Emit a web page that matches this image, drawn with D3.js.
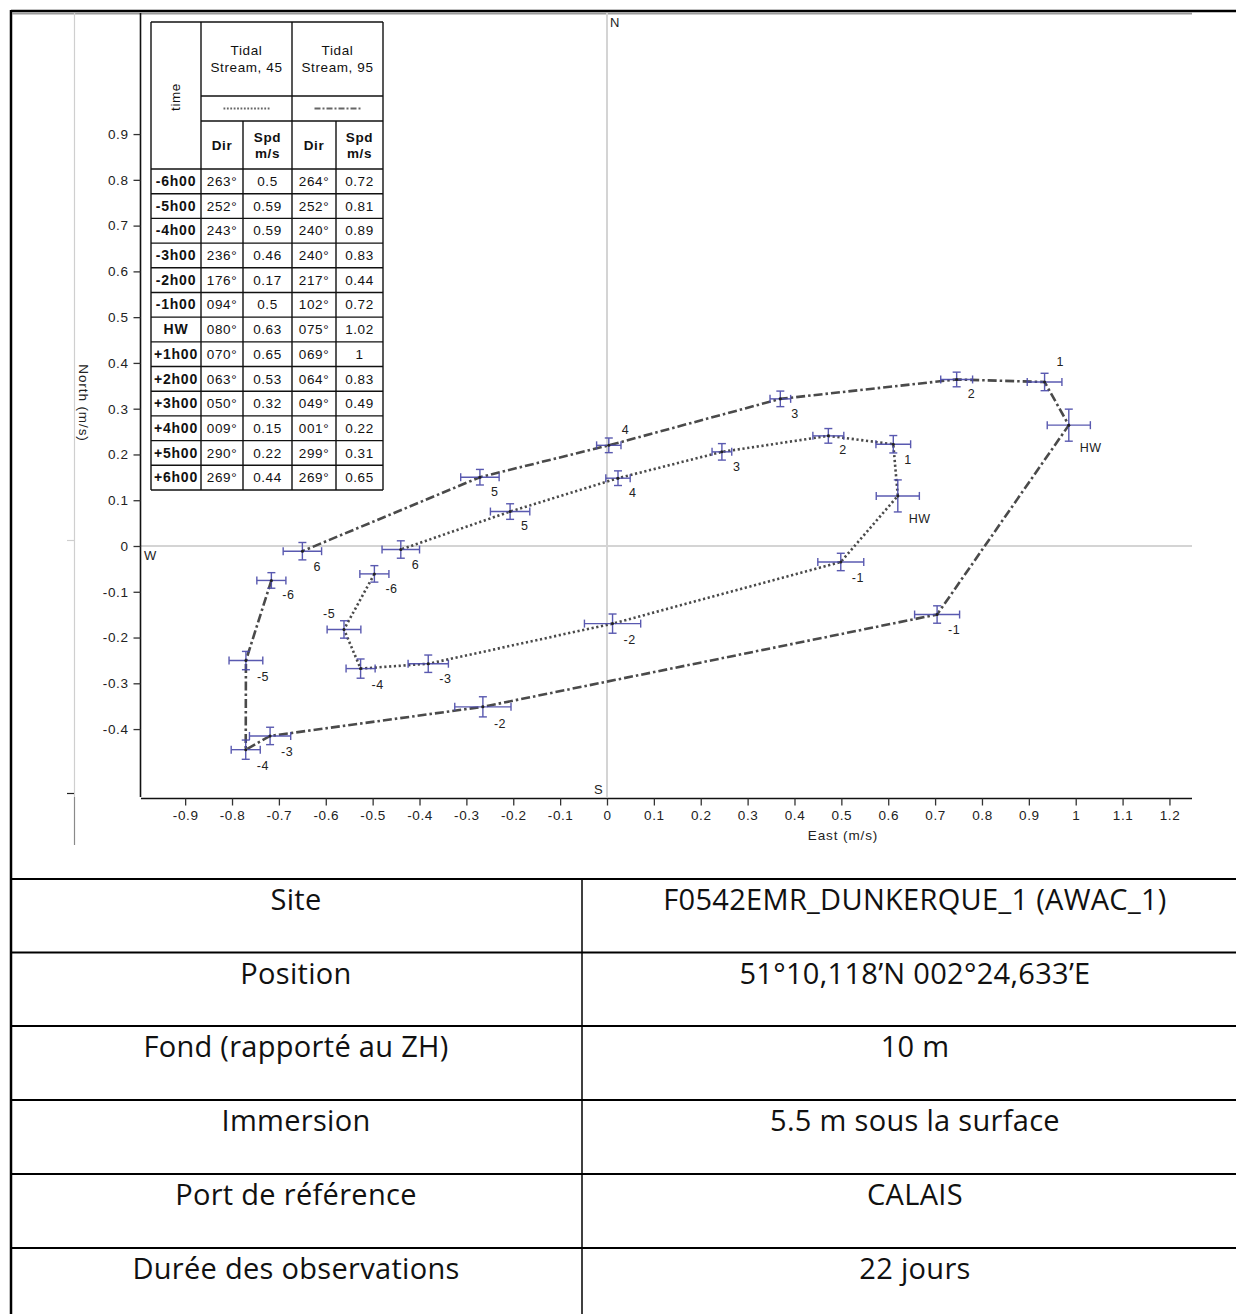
<!DOCTYPE html>
<html><head><meta charset="utf-8">
<script src="https://cdn.jsdelivr.net/npm/d3@7"></script>
<style>
body{margin:0;background:#fff;}
svg{display:block;}
</style></head><body>
<svg id="c" width="1236" height="1314"></svg>
<script>
// Tidal stream table (direction in degrees, speed in m/s) for two depth bins
const times = ["-6h00","-5h00","-4h00","-3h00","-2h00","-1h00","HW","+1h00","+2h00","+3h00","+4h00","+5h00","+6h00"];
const pointLabels = ["-6","-5","-4","-3","-2","-1","HW","1","2","3","4","5","6"];
const dir45 = [263,252,243,236,176,94,80,70,63,50,9,290,269];
const spd45 = [0.5,0.59,0.59,0.46,0.17,0.5,0.63,0.65,0.53,0.32,0.15,0.22,0.44];
const dir95 = [264,252,240,240,217,102,75,69,64,49,1,299,269];
const spd95 = [0.72,0.81,0.89,0.83,0.44,0.72,1.02,1,0.83,0.49,0.22,0.31,0.65];
// spread of the east / north components (m/s)
const eastErr45  = [0.031,0.036,0.031,0.043,0.060,0.049,0.046,0.037,0.033,0.021,0.026,0.042,0.040];
const northErr45 = [0.018,0.019,0.021,0.019,0.021,0.019,0.035,0.019,0.016,0.018,0.016,0.017,0.019];
const eastErr95  = [0.031,0.036,0.031,0.044,0.060,0.048,0.046,0.037,0.034,0.022,0.026,0.041,0.041];
const northErr95 = [0.017,0.020,0.021,0.019,0.022,0.019,0.035,0.019,0.016,0.017,0.016,0.017,0.019];
const seriesNames = ["Tidal Stream, 45","Tidal Stream, 95"];
const xTicks = [-0.9,-0.8,-0.7,-0.6,-0.5,-0.4,-0.3,-0.2,-0.1,0,0.1,0.2,0.3,0.4,0.5,0.6,0.7,0.8,0.9,1,1.1,1.2];
const yTicks = [-0.4,-0.3,-0.2,-0.1,0,0.1,0.2,0.3,0.4,0.5,0.6,0.7,0.8,0.9];
const siteKeys = ["Site","Position","Fond (rapporté au ZH)","Immersion","Port de référence","Durée des observations"];
const siteValues = ["F0542EMR_DUNKERQUE_1 (AWAC_1)","51°10,118’N 002°24,633’E","10 m","5.5 m sous la surface","CALAIS","22 jours"];

const svg = d3.select("#c");
const F = "'Liberation Sans', Arial, sans-serif";

// ---------- frame ----------
svg.append("line").attr("x1",11).attr("x2",1236).attr("y1",11).attr("y2",11).attr("stroke","#000").attr("stroke-width",2.5);
svg.append("line").attr("x1",11).attr("x2",11).attr("y1",10).attr("y2",1314).attr("stroke","#000").attr("stroke-width",2.5);
svg.append("line").attr("x1",12).attr("x2",1192).attr("y1",13.5).attr("y2",13.5).attr("stroke","#9a9a9a").attr("stroke-width",2);
svg.append("line").attr("x1",74.5).attr("x2",74.5).attr("y1",13).attr("y2",797).attr("stroke","#cfcfcf").attr("stroke-width",1.2);
svg.append("line").attr("x1",74.5).attr("x2",74.5).attr("y1",797).attr("y2",845).attr("stroke","#8a8a8a").attr("stroke-width",1.2);
svg.append("line").attr("x1",67).attr("x2",74).attr("y1",540.5).attr("y2",540.5).attr("stroke","#cfcfcf").attr("stroke-width",1.2);
svg.append("line").attr("x1",67).attr("x2",74).attr("y1",793.5).attr("y2",793.5).attr("stroke","#222").attr("stroke-width",1.2);

// ---------- scales ----------
const x = d3.scaleLinear().domain([-0.9942, 1.2481]).range([141, 1192]);
const y = d3.scaleLinear().domain([-0.5484, 1.1667]).range([797, 12]);
const fmt = d => d === 0 ? "0" : String(+d.toFixed(1)).replace("\u2212","-");

// crosshair through the origin
svg.append("line").attr("x1",x(0)).attr("x2",x(0)).attr("y1",13).attr("y2",797).attr("stroke","#d4d4d4").attr("stroke-width",2);
svg.append("line").attr("x1",141).attr("x2",1192).attr("y1",y(0)).attr("y2",y(0)).attr("stroke","#d4d4d4").attr("stroke-width",2);

// axes
const gx = svg.append("g").attr("transform","translate(0,798.5)")
  .call(d3.axisBottom(x).tickValues(xTicks).tickFormat(fmt).tickSizeOuter(0).tickSize(7).tickPadding(5));
const gy = svg.append("g").attr("transform","translate(140.5,0)")
  .call(d3.axisLeft(y).tickValues(yTicks).tickFormat(fmt).tickSizeOuter(0).tickSize(7).tickPadding(5));
[gx, gy].forEach(g => {
  g.select(".domain").attr("stroke","#111").attr("stroke-width",1.6);
  g.selectAll(".tick line").attr("stroke","#333").attr("stroke-width",1.3);
  g.selectAll(".tick text").attr("font-family",F).attr("font-size",13.5)
    .attr("letter-spacing",0.6).attr("fill","#222");
});
gy.select(".domain").attr("d","M0,13V797");
gx.select(".domain").attr("d","M141,0H1192");

svg.append("text").attr("x",843).attr("y",840).attr("text-anchor","middle").attr("letter-spacing",0.9)
  .attr("font-family",F).attr("font-size",13.5).attr("fill","#222").text("East (m/s)");
svg.append("text").attr("transform","translate(79,403) rotate(90)").attr("text-anchor","middle").attr("letter-spacing",0.9)
  .attr("font-family",F).attr("font-size",13.5).attr("fill","#222").text("North (m/s)");

// compass letters
svg.append("text").attr("x",610).attr("y",27).attr("font-family",F).attr("font-size",13).attr("fill","#222").text("N");
svg.append("text").attr("x",594).attr("y",794).attr("font-family",F).attr("font-size",13).attr("fill","#222").text("S");
svg.append("text").attr("x",144).attr("y",560).attr("font-family",F).attr("font-size",13).attr("fill","#222").text("W");

// ---------- tidal ellipses ----------
const rad = Math.PI / 180;
function toPoints(dir, spd, ee, ne) {
  return dir.map((d, i) => ({
    e: spd[i] * Math.sin(d * rad),
    n: spd[i] * Math.cos(d * rad),
    ee: ee[i], ne: ne[i], label: pointLabels[i], i
  }));
}
const series = [
  {key:"45", pts: toPoints(dir45, spd45, eastErr45, northErr45), dash:"2.2,2.6", sample:"1.8,1.6", width:2.6},
  {key:"95", pts: toPoints(dir95, spd95, eastErr95, northErr95), dash:"9,3,2.5,3", sample:"6,2,2,2", width:2.6}
];
// labels that sit above the point instead of below-right
const labelShift = {"45:1":[-21,-11], "95:7":[12,-16], "95:10":[13,-11]};

const line = d3.line().x(d => x(d.e)).y(d => y(d.n));
const ebColor = "#4848a8";
series.forEach(s => {
  svg.append("path").datum(s.pts).attr("d", line).attr("fill","none")
    .attr("stroke","#4a4a4a").attr("stroke-width",s.width).attr("stroke-dasharray",s.dash);
  const g = svg.append("g");
  s.pts.forEach(p => {
    const cx = x(p.e), cy = y(p.n);
    const x0 = x(p.e - p.ee), x1 = x(p.e + p.ee);
    const y0 = y(p.n - p.ne), y1 = y(p.n + p.ne);
    const eb = g.append("g").attr("stroke",ebColor).attr("stroke-width",1.4).attr("opacity",0.9);
    eb.append("line").attr("x1",x0).attr("x2",x1).attr("y1",cy).attr("y2",cy);
    eb.append("line").attr("x1",x0).attr("x2",x0).attr("y1",cy-4).attr("y2",cy+4);
    eb.append("line").attr("x1",x1).attr("x2",x1).attr("y1",cy-4).attr("y2",cy+4);
    eb.append("line").attr("x1",cx).attr("x2",cx).attr("y1",y0).attr("y2",y1);
    eb.append("line").attr("x1",cx-4).attr("x2",cx+4).attr("y1",y0).attr("y2",y0);
    eb.append("line").attr("x1",cx-4).attr("x2",cx+4).attr("y1",y1).attr("y2",y1);
    g.append("circle").attr("cx",cx).attr("cy",cy).attr("r",1.5).attr("fill","#222");
    const sh = labelShift[s.key + ":" + p.i];
    const dx = sh ? sh[0] : 11;
    const dy = sh ? sh[1] : (y0 - cy) + 11;
    g.append("text").attr("x",cx+dx).attr("y",cy+dy).attr("font-family",F).attr("font-size",12.5)
      .attr("letter-spacing",0.5).attr("fill","#222").text(p.label);
  });
});

// ---------- legend / data table ----------
const tb = svg.append("g");
const colX = [151, 201, 243, 292, 336, 383];
const rowTop = 169, rowH = (490 - 169) / times.length;
const T = (x0, y0, txt, opt={}) => tb.append("text").attr("x",x0).attr("y",y0).attr("text-anchor","middle")
  .attr("font-family",F).attr("font-size",opt.size||13.5).attr("font-weight",opt.bold?"bold":"normal")
  .attr("letter-spacing",opt.ls!==undefined?opt.ls:0.6).attr("fill","#111").text(txt);
tb.append("rect").attr("x",151).attr("y",22).attr("width",232).attr("height",468).attr("fill","#fff");
const L = (x1,y1,x2,y2) => tb.append("line").attr("x1",x1).attr("y1",y1).attr("x2",x2).attr("y2",y2)
  .attr("stroke","#111").attr("stroke-width",1.4);
// outer border and grid
L(151,22,383,22); L(151,490,383,490); L(151,22,151,490); L(383,22,383,490);
L(201,22,201,490); L(292,22,292,490);
L(243,121,243,490); L(336,121,336,490);
L(201,96,383,96); L(201,121,383,121); L(151,169,383,169);
times.forEach((t,i) => { if (i>0) L(151, rowTop+i*rowH, 383, rowTop+i*rowH); });

// headers
seriesNames.forEach((nm, k) => {
  const cx = (colX[1+2*k] + colX[3+2*k]) / 2;
  const parts = nm.split(" ");
  T(cx, 55, parts[0]); T(cx, 72, parts.slice(1).join(" "));
  T((colX[1+2*k]+colX[2+2*k])/2, 150, "Dir", {bold:true});
  T((colX[2+2*k]+colX[3+2*k])/2, 142, "Spd", {bold:true});
  T((colX[2+2*k]+colX[3+2*k])/2, 158, "m/s", {bold:true});
  tb.append("line").attr("x1",cx-23).attr("x2",cx+23).attr("y1",108.5).attr("y2",108.5)
    .attr("stroke","#666").attr("stroke-width",2).attr("stroke-dasharray",series[k].sample);
});
tb.append("text").attr("transform","translate(180,97) rotate(-90)").attr("text-anchor","middle")
  .attr("font-family",F).attr("font-size",13.5).attr("letter-spacing",0.6).attr("fill","#111").text("time");

const fmtDir = d => String(d).padStart(3,"0") + "°";
times.forEach((t, i) => {
  const by = rowTop + i*rowH + 17;
  T(176, by, t, {bold:true, size:14, ls:0.8});
  T(222, by, fmtDir(dir45[i]));
  T(267.5, by, String(spd45[i]));
  T(314, by, fmtDir(dir95[i]));
  T(359.5, by, String(spd95[i]));
});

// ---------- site information table ----------
const rowsY = [879, 952.5, 1026, 1100, 1174, 1248];
const ST = svg.append("g");
rowsY.forEach(ry => ST.append("line").attr("x1",11).attr("x2",1236).attr("y1",ry).attr("y2",ry)
  .attr("stroke","#000").attr("stroke-width",2));
ST.append("line").attr("x1",582).attr("x2",582).attr("y1",879).attr("y2",1314).attr("stroke","#000").attr("stroke-width",1.5);
const OS = "'Open Sans', 'Noto Sans', sans-serif";
siteKeys.forEach((k, i) => {
  ST.append("text").attr("x",296).attr("y",rowsY[i]+31).attr("text-anchor","middle").attr("letter-spacing",0.3)
    .attr("font-family",OS).attr("font-size",29).attr("fill","#111").text(k);
  ST.append("text").attr("x",915).attr("y",rowsY[i]+31).attr("text-anchor","middle").attr("letter-spacing",0.3)
    .attr("font-family",OS).attr("font-size",29).attr("fill","#111").text(siteValues[i]);
});
</script>
</body></html>
